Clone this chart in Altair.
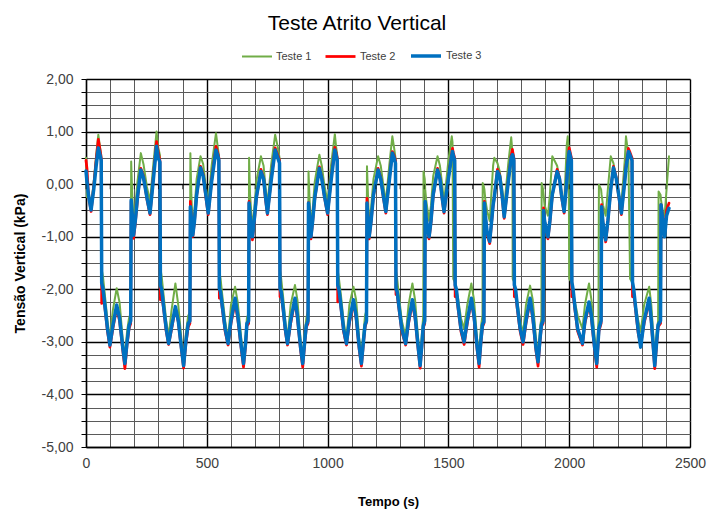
import altair as alt
import pandas as pd

# ---- data (time in s, stress in kPa) ----
tempo = [
    0, 4, 10, 21, 32, 42, 51, 58, 63,
    65, 70, 78, 89, 99, 111, 127, 139, 152, 161, 170, 178, 185,
    187, 191, 197, 204, 213, 227, 238, 252, 265, 278, 292, 299, 306,
    308, 313, 321, 332, 342, 354, 370, 382, 395, 404, 413, 423, 430,
    432, 436, 442, 449, 458, 474, 485, 496, 506, 520, 538, 545, 550,
    552, 557, 565, 576, 588, 600, 617, 628, 643, 652, 661, 666, 673,
    675, 679, 689, 696, 705, 724, 735, 742, 751, 766, 783, 794, 801,
    803, 808, 816, 825, 834, 847, 865, 875, 888, 897, 906, 912, 919,
    921, 925, 931, 938, 947, 966, 976, 986, 1000, 1014, 1030, 1035, 1040,
    1042, 1047, 1055, 1066, 1078, 1090, 1107, 1118, 1131, 1140, 1149, 1155, 1161,
    1163, 1167, 1172, 1180, 1190, 1209, 1220, 1230, 1241, 1255, 1268, 1275, 1281,
    1283, 1288, 1296, 1307, 1323, 1335, 1351, 1362, 1375, 1383, 1391, 1396, 1397, 1402,
    1404, 1408, 1420, 1428, 1437, 1455, 1465, 1474, 1482, 1500, 1514, 1517, 1520, 1526,
    1528, 1533, 1541, 1552, 1565, 1578, 1595, 1606, 1619, 1627, 1635, 1641, 1642, 1647,
    1649, 1653, 1660, 1671, 1685, 1690, 1703, 1712, 1722, 1731, 1748, 1760, 1765, 1766, 1771,
    1773, 1778, 1786, 1797, 1809, 1821, 1838, 1849, 1862, 1871, 1880, 1885, 1886, 1892,
    1894, 1898, 1912, 1920, 1930, 1950, 1960, 1968, 1979, 1990, 1994, 1998, 2000, 2009,
    2011, 2016, 2024, 2035, 2055, 2065, 2082, 2092, 2105, 2114, 2121, 2123, 2132,
    2134, 2140, 2151, 2160, 2172, 2183, 2195, 2205, 2216, 2230, 2235, 2245, 2252, 2260,
    2262, 2267, 2275, 2286, 2296, 2310, 2331, 2340, 2354, 2362, 2368, 2370, 2378,
    2380, 2388, 2395, 2403, 2413,
]

teste1 = [
    0.50, -0.25, -0.15, -0.42, 0.05, 0.55, 0.94, 0.70, 0.55,
    -1.62, -1.75, -2.10, -2.60, -2.95, -2.40, -1.98, -2.25, -2.95, -3.30, -2.80, -2.55, -2.45,
    0.43, -0.15, -0.71, -0.45, 0.05, 0.59, 0.38, -0.05, -0.33, 0.35, 1.00, 0.70, 0.55,
    -1.60, -1.75, -2.10, -2.60, -2.90, -2.40, -1.89, -2.30, -2.95, -3.35, -2.85, -2.50, -2.45,
    0.59, -0.20, -0.80, -0.50, 0.10, 0.53, 0.38, -0.05, -0.35, 0.35, 0.97, 0.72, 0.55,
    -1.67, -1.80, -2.15, -2.60, -2.95, -2.30, -1.95, -2.25, -2.95, -3.35, -2.85, -2.55, -2.45,
    0.50, -0.20, -0.85, -0.50, 0.05, 0.53, 0.35, 0.00, -0.40, 0.35, 0.94, 0.70, 0.50,
    -1.63, -1.80, -2.15, -2.60, -2.95, -2.30, -1.92, -2.20, -2.95, -3.30, -2.80, -2.55, -2.40,
    0.24, -0.25, -0.80, -0.50, 0.05, 0.56, 0.35, 0.00, -0.35, 0.35, 0.95, 0.72, 0.55,
    -1.65, -1.80, -2.10, -2.60, -2.95, -2.30, -1.95, -2.20, -2.95, -3.20, -2.80, -2.50, -2.40,
    0.34, -0.20, -0.80, -0.45, 0.10, 0.53, 0.35, 0.00, -0.35, 0.35, 0.91, 0.70, 0.50,
    -1.65, -1.80, -2.15, -2.60, -2.90, -2.30, -1.89, -2.20, -2.95, -3.30, -2.80, -2.50, 0.24, 0.10,
    -0.10, -0.30, -0.70, -0.40, 0.15, 0.53, 0.35, 0.00, -0.35, 0.45, 0.91, 0.80, -1.80, -1.86,
    -1.90, -2.00, -2.20, -2.55, -2.75, -2.30, -1.89, -2.20, -2.95, -3.20, -2.70, -2.50, 0.02, -0.05,
    -0.10, -0.30, -0.50, -0.70, 0.35, 0.50, 0.40, 0.25, -0.05, -0.45, 0.40, 0.89, 0.60, -1.80, -1.85,
    -1.95, -2.05, -2.25, -2.60, -2.84, -2.30, -1.93, -2.20, -2.90, -3.25, -2.70, -2.55, 0.02, -0.10,
    -0.20, -0.40, -0.60, -0.20, 0.53, 0.35, 0.10, -0.20, -0.40, 0.75, 0.91, 0.60, -1.80, -1.86,
    -1.90, -2.05, -2.25, -2.50, -2.75, -2.30, -1.89, -2.20, -2.90, -3.20, -2.60, -0.01, -0.10,
    -0.20, -0.40, -0.60, -0.10, 0.53, 0.40, 0.10, -0.20, -0.35, 0.45, 0.91, 0.55, -1.80, -1.86,
    -1.95, -2.05, -2.30, -2.60, -2.81, -2.30, -1.95, -2.30, -3.30, -2.80, -2.60, -0.14, -0.20,
    -0.30, -0.55, -0.60, -0.10, 0.53,
]

teste2 = [
    0.45, 0.30, -0.20, -0.52, -0.05, 0.45, 0.85, 0.65, 0.50,
    -2.27, -2.05, -2.35, -2.80, -3.10, -2.75, -2.35, -2.60, -3.15, -3.51, -3.05, -2.75, -2.65,
    -0.33, -0.60, -1.03, -0.75, -0.30, 0.30, 0.15, -0.28, -0.58, 0.10, 0.81, 0.60, 0.45,
    -2.20, -2.08, -2.36, -2.80, -3.05, -2.76, -2.36, -2.62, -3.15, -3.50, -3.05, -2.72, -2.65,
    -0.33, -0.65, -1.00, -0.72, -0.22, 0.34, 0.18, -0.25, -0.58, 0.08, 0.72, 0.60, 0.50,
    -2.17, -2.10, -2.40, -2.80, -3.06, -2.65, -2.25, -2.55, -3.15, -3.48, -3.05, -2.70, -2.65,
    -0.33, -0.62, -1.06, -0.75, -0.28, 0.28, 0.12, -0.25, -0.58, 0.08, 0.69, 0.55, 0.45,
    -2.14, -2.10, -2.40, -2.80, -3.06, -2.65, -2.22, -2.55, -3.15, -3.48, -3.00, -2.72, -2.65,
    -0.35, -0.62, -1.04, -0.73, -0.28, 0.33, 0.12, -0.22, -0.58, 0.08, 0.70, 0.60, 0.50,
    -2.24, -2.08, -2.35, -2.80, -3.06, -2.65, -2.25, -2.55, -3.15, -3.46, -3.00, -2.72, -2.62,
    -0.27, -0.60, -1.04, -0.72, -0.22, 0.30, 0.12, -0.23, -0.55, 0.08, 0.62, 0.55, 0.45,
    -2.10, -2.10, -2.40, -2.80, -3.06, -2.65, -2.25, -2.55, -3.15, -3.50, -3.05, -2.75, -2.72, -2.65,
    -0.35, -0.65, -1.04, -0.73, -0.23, 0.30, 0.12, -0.28, -0.55, 0.12, 0.60, 0.68, 0.60, 0.50,
    -2.14, -2.08, -2.40, -2.80, -3.05, -2.65, -2.22, -2.55, -3.15, -3.48, -3.00, -2.72, -2.70, -2.65,
    -0.33, -0.62, -0.95, -1.13, -0.42, -0.25, 0.28, 0.18, -0.23, -0.65, 0.08, 0.55, 0.66, 0.62, 0.50,
    -2.14, -2.08, -2.40, -2.80, -3.05, -2.65, -2.22, -2.55, -3.15, -3.46, -2.95, -2.72, -2.70, -2.65,
    -0.45, -0.70, -1.04, -0.73, -0.22, 0.28, 0.12, -0.23, -0.55, 0.10, 0.40, 0.60, 0.69, 0.50,
    -2.14, -2.08, -2.40, -2.80, -3.06, -2.65, -2.28, -2.55, -3.15, -3.48, -2.95, -2.80, -2.65,
    -0.39, -0.75, -1.10, -0.73, -0.10, 0.34, 0.12, -0.23, -0.58, 0.10, 0.35, 0.68, 0.60, 0.50,
    -2.14, -2.08, -2.40, -2.85, -3.05, -2.65, -2.22, -2.65, -3.51, -3.05, -2.72, -2.70, -2.65,
    -0.39, -0.65, -0.90, -0.50, -0.36,
]

teste3 = [
    0.25, 0.05, -0.20, -0.49, -0.10, 0.35, 0.69, 0.55, 0.45,
    -1.88, -1.98, -2.30, -2.75, -3.06, -2.70, -2.30, -2.55, -3.10, -3.41, -3.00, -2.70, -2.60,
    -0.30, -0.55, -0.97, -0.70, -0.25, 0.27, 0.12, -0.25, -0.55, 0.05, 0.72, 0.50, 0.42,
    -1.92, -2.00, -2.32, -2.75, -3.03, -2.72, -2.33, -2.60, -3.12, -3.45, -3.00, -2.65, -2.60,
    -0.43, -0.65, -0.97, -0.70, -0.20, 0.31, 0.15, -0.20, -0.55, 0.05, 0.65, 0.55, 0.45,
    -1.98, -2.05, -2.35, -2.75, -3.03, -2.60, -2.17, -2.50, -3.10, -3.41, -3.00, -2.65, -2.60,
    -0.36, -0.60, -1.00, -0.70, -0.25, 0.24, 0.10, -0.20, -0.55, 0.05, 0.65, 0.50, 0.40,
    -1.98, -2.05, -2.35, -2.75, -3.03, -2.60, -2.17, -2.50, -3.10, -3.41, -2.95, -2.68, -2.60,
    -0.36, -0.60, -1.00, -0.70, -0.25, 0.30, 0.10, -0.20, -0.55, 0.05, 0.65, 0.55, 0.45,
    -1.92, -2.00, -2.30, -2.75, -3.03, -2.60, -2.20, -2.50, -3.10, -3.41, -2.95, -2.68, -2.60,
    -0.36, -0.65, -1.00, -0.70, -0.20, 0.27, 0.10, -0.20, -0.52, 0.05, 0.59, 0.50, 0.40,
    -1.98, -2.05, -2.35, -2.75, -3.03, -2.60, -2.20, -2.50, -3.10, -3.45, -3.00, -2.70, -2.68, -2.60,
    -0.33, -0.65, -1.00, -0.70, -0.20, 0.27, 0.10, -0.25, -0.52, 0.10, 0.55, 0.62, 0.55, 0.45,
    -1.92, -2.00, -2.35, -2.75, -3.00, -2.60, -2.17, -2.50, -3.10, -3.41, -2.95, -2.68, -2.66, -2.62,
    -0.36, -0.60, -0.90, -1.09, -0.40, -0.25, 0.24, 0.15, -0.20, -0.62, 0.05, 0.50, 0.56, 0.55, 0.45,
    -1.92, -2.00, -2.35, -2.75, -3.00, -2.60, -2.17, -2.50, -3.10, -3.38, -2.90, -2.68, -2.66, -2.60,
    -0.50, -0.70, -1.00, -0.70, -0.20, 0.24, 0.10, -0.20, -0.52, 0.05, 0.35, 0.55, 0.62, 0.45,
    -1.86, -2.00, -2.35, -2.75, -3.03, -2.60, -2.24, -2.50, -3.10, -3.41, -2.90, -2.75, -2.60,
    -0.43, -0.75, -1.06, -0.70, -0.10, 0.31, 0.10, -0.20, -0.55, 0.05, 0.30, 0.62, 0.55, 0.45,
    -1.86, -2.00, -2.35, -2.80, -3.10, -2.60, -2.17, -2.60, -3.45, -3.00, -2.68, -2.66, -2.60,
    -0.39, -0.70, -1.00, -0.60, -0.46,
]

series_names = ["Teste 1", "Teste 2", "Teste 3"]
series_colors = ["#70AD47", "#FF0000", "#0070C0"]
series_widths = [2.0, 3.5, 4.2]

x_ticks = [0, 100, 200, 300, 400, 500, 600, 700, 800, 900, 1000, 1100, 1200,
           1300, 1400, 1500, 1600, 1700, 1800, 1900, 2000, 2100, 2200, 2300,
           2400, 2500]
y_ticks = [-5.0, -4.75, -4.5, -4.25, -4.0, -3.75, -3.5, -3.25, -3.0, -2.75,
           -2.5, -2.25, -2.0, -1.75, -1.5, -1.25, -1.0, -0.75, -0.5, -0.25,
           0.0, 0.25, 0.5, 0.75, 1.0, 1.25, 1.5, 1.75, 2.0]

n = len(tempo)
df = pd.DataFrame({
    "Tempo": tempo * 3,
    "Valor": teste1 + teste2 + teste3,
    "Serie": [series_names[0]] * n + [series_names[1]] * n + [series_names[2]] * n,
})
ticks_df = pd.DataFrame({"Tempo": x_ticks, "Valor": [0.0] * len(x_ticks)})

FONT = "Liberation Sans"

x_scale = alt.Scale(domain=[0, 2500], nice=False, zero=False)
y_scale = alt.Scale(domain=[-5, 2], nice=False, zero=False)


def make_x_axis():
    return alt.Axis(
        values=x_ticks,
        title="Tempo (s)",
        labelExpr="datum.value % 500 === 0 ? datum.label : ''",
        format="d",
        labelFontSize=14, labelColor="#404040", labelPadding=9, labelFlush=False,
        labelOverlap=False,
        ticks=False,
        domainColor="#000000", domainWidth=1.3,
        grid=True,
        gridColor={"condition": {"test": "datum.value % 500 === 0", "value": "#000000"}, "value": "#5a5a5a"},
        gridWidth={"condition": {"test": "datum.value % 500 === 0", "value": 1.4}, "value": 1.0},
        titleFontSize=13, titleFontWeight="bold", titleColor="#000000", titlePadding=25,
    )


def make_y_axis():
    return alt.Axis(
        values=y_ticks,
        title="Tensão Vertical (kPa)",
        labelExpr="datum.value % 1 === 0 ? replace(replace(format(datum.value, '.2f'), '.', ','), '\u2212', '-') : ''",
        labelFontSize=14, labelColor="#404040", labelPadding=8, labelOverlap=False,
        tickSize=5, tickColor="#000000", tickWidth=1,
        domainColor="#000000", domainWidth=1.3,
        grid=True,
        gridColor={"condition": {"test": "datum.value % 1 === 0", "value": "#000000"}, "value": "#5a5a5a"},
        gridWidth={"condition": {"test": "datum.value % 1 === 0", "value": 1.4}, "value": 1.0},
        titleFontSize=14, titleFontWeight="bold", titleColor="#000000", titlePadding=14,
    )


def make_legend():
    return alt.Legend(
        title=None, orient="none", legendX=155, legendY=-40,
        direction="horizontal", symbolType="stroke", symbolSize=900,
        labelFontSize=11, labelColor="#404040",
        labelFont=FONT, columnPadding=8, labelOffset=3,
    )


lines = alt.Chart(df).mark_line(strokeJoin="round", strokeCap="round").encode(
    x=alt.X("Tempo:Q", scale=x_scale, axis=make_x_axis()),
    y=alt.Y("Valor:Q", scale=y_scale, axis=make_y_axis()),
    color=alt.Color(
        "Serie:N",
        scale=alt.Scale(domain=series_names, range=series_colors),
        legend=make_legend(),
    ),
    strokeWidth=alt.StrokeWidth(
        "Serie:N",
        scale=alt.Scale(domain=series_names, range=series_widths),
        legend=make_legend(),
    ),
)

zero_ticks = alt.Chart(ticks_df).mark_tick(
    orient="vertical", size=5, thickness=1, color="#000000", yOffset=2.5
).encode(
    x=alt.X("Tempo:Q", scale=x_scale, axis=make_x_axis()),
    y=alt.Y("Valor:Q", scale=y_scale, axis=make_y_axis()),
)

chart = alt.layer(lines, zero_ticks).properties(
    width=604,
    height=368,
    autosize=alt.AutoSizeParams(type="none"),
    padding={"left": 86, "top": 79, "right": 18, "bottom": 62},
    title=alt.TitleParams(
        "Teste Atrito Vertical", fontSize=21, fontWeight="normal",
        font=FONT, color="#000000", anchor="middle", dx=-31, offset=5,
    ),
).configure(font=FONT).configure_view(strokeWidth=0)

chart.save("out.html", embed_options={"renderer": "svg", "actions": False})
